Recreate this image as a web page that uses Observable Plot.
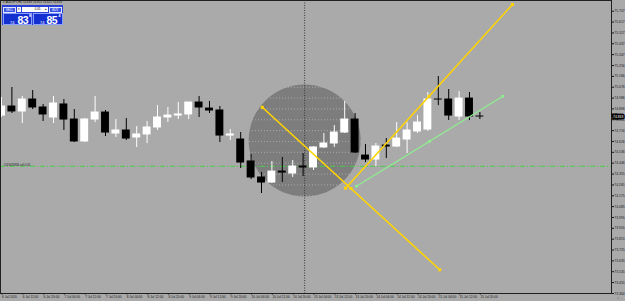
<!DOCTYPE html>
<html><head><meta charset="utf-8">
<script src="https://cdn.jsdelivr.net/npm/d3@7"></script>
<script src="https://cdn.jsdelivr.net/npm/@observablehq/plot@0.6"></script>
<style>
html,body{margin:0;padding:0;background:#aaaaaa;width:625px;height:301px;overflow:hidden;font-family:"Liberation Sans",Arial,sans-serif;}
#wrap{position:relative;width:625px;height:301px;}
#chart svg{display:block;}
.abs{position:absolute;box-sizing:border-box;}
#hdr{left:3px;top:0px;font-size:3px;color:#111;white-space:nowrap;line-height:4px;}
#panel{left:2px;top:5px;width:61px;height:20px;background:#2a3fd6;}
.btn{background:#3a55e6;border:0.5px solid #e0e6ff;color:#fff;font-size:3px;line-height:5px;text-align:center;}
.big{background:#1530d0;border:0.6px solid #8aa0ff;color:#fff;}
.big span{position:absolute;font-weight:bold;line-height:1;white-space:nowrap;}
</style></head>
<body><div id="wrap"><div id="chart"></div>
<div id="hdr" class="abs">▾ AUDJPY,H4 74.849 74.855 74.825 74.833</div>
<div id="panel" class="abs">
  <div class="abs btn" style="left:1px;top:1.5px;width:13px;height:6px;">SELL</div>
  <div class="abs" style="left:15px;top:2px;width:4px;height:5px;background:#fff;font-size:3px;line-height:5px;text-align:center;color:#000;">▾</div>
  <div class="abs" style="left:19.5px;top:2px;width:22px;height:5px;background:#fff;font-size:3px;line-height:5px;text-align:right;padding-right:3px;color:#000;">0.05</div>
  <div class="abs" style="left:42px;top:2px;width:4px;height:5px;background:#fff;font-size:3px;line-height:5px;text-align:center;color:#000;">▴</div>
  <div class="abs btn" style="left:46.5px;top:1.5px;width:13.5px;height:6px;">BUY</div>
  <div class="abs big" style="left:1px;top:8px;width:28.5px;height:12px;">
    <span style="left:6px;top:6.5px;font-size:4px;font-weight:normal;">74</span>
    <span style="left:13.5px;top:1px;font-size:10.5px;letter-spacing:-0.6px;">83</span>
    <span style="left:25px;top:1px;font-size:3.6px;">8</span>
  </div>
  <div class="abs big" style="left:31px;top:8px;width:29.5px;height:12px;">
    <span style="left:6px;top:6.5px;font-size:4px;font-weight:normal;">74</span>
    <span style="left:12.5px;top:1px;font-size:10.5px;letter-spacing:-0.6px;">85</span>
    <span style="left:24.5px;top:1px;font-size:3.6px;">4</span>
  </div>
</div>
</div>
<script>
// ---- data (AUDJPY H4) ----
const opens  = [74.841,74.916,74.875,74.974,74.908,74.825,74.933,74.808,74.626,74.808,74.866,74.692,74.717,74.659,74.684,74.742,74.825,74.841,74.850,74.949,74.899,74.883,74.675,74.642,74.460,74.327,74.285,74.376,74.360,74.418,74.410,74.576,74.609,74.700,74.808,74.509,74.476,74.592,74.584,74.642,74.709,74.725,74.974,74.974,74.833,74.982,74.833];
const highs  = [74.991,75.074,74.999,75.049,74.933,74.999,74.974,74.891,74.816,74.999,74.883,74.808,74.816,74.750,74.792,74.924,74.908,74.949,74.949,74.999,74.958,74.916,74.725,74.700,74.518,74.368,74.460,74.493,74.468,74.526,74.584,74.692,74.758,74.958,74.858,74.601,74.609,74.650,74.783,74.783,74.841,75.032,75.165,75.057,75.041,75.032,74.866];
const lows   = [74.825,74.858,74.775,74.891,74.792,74.775,74.717,74.617,74.617,74.783,74.667,74.659,74.634,74.576,74.609,74.717,74.783,74.808,74.808,74.825,74.858,74.617,74.634,74.401,74.310,74.194,74.277,74.285,74.327,74.335,74.385,74.567,74.576,74.692,74.526,74.451,74.418,74.484,74.576,74.526,74.692,74.709,74.924,74.800,74.800,74.800,74.808];
const closes = [74.916,74.875,74.974,74.908,74.850,74.941,74.808,74.626,74.808,74.866,74.700,74.717,74.650,74.684,74.742,74.825,74.841,74.850,74.949,74.908,74.883,74.675,74.684,74.451,74.327,74.285,74.376,74.368,74.418,74.410,74.576,74.609,74.700,74.808,74.534,74.476,74.584,74.584,74.650,74.717,74.783,74.974,74.974,74.841,74.982,74.833,74.833];

const xLabels = ["6 Jul 2020","6 Jul 12:00","6 Jul 20:00","7 Jul 04:00","7 Jul 12:00","7 Jul 20:00","8 Jul 04:00","8 Jul 12:00","8 Jul 20:00","9 Jul 04:00","9 Jul 12:00","9 Jul 20:00","10 Jul 04:00","10 Jul 12:00","10 Jul 20:00","13 Jul 04:00","13 Jul 12:00","13 Jul 20:00","14 Jul 04:00","14 Jul 12:00","14 Jul 20:00","15 Jul 04:00","15 Jul 12:00","15 Jul 20:00"];
const xTickBars = [0,2,4,6,8,10,12,14,16,18,20,22,24,26,28,30,32,34,36,38,40,42,44,46];
const yTicks = [75.707,75.617,75.527,75.437,75.347,75.256,75.166,75.076,74.986,74.896,74.806,74.716,74.626,74.536,74.446,74.355,74.265,74.175,74.085,73.995,73.905,73.815,73.725,73.635,73.545,73.455,73.364];

// chart objects
const orderPrice = 74.420;
const orderText = "#245629836 sell 0.05";
const separatorBar = 29.15;
const ellipseCenter = {i: 29.15, p: 74.634};
const trendA = [{i: 25.07, p: 74.910}, {i: 42.14, p: 73.561}];
const trendB = [{i: 33.08, p: 74.238}, {i: 49.13, p: 75.763}];
const trendC = [{i: 34.13, p: 74.254}, {i: 48.20, p: 75.001}];

// ---- build ----
const candles = opens.map((o, i) => ({i, open: o, high: highs[i], low: lows[i], close: closes[i]}));
const mid = (l) => ({i: (l[0].i + l[1].i) / 2, p: (l[0].p + l[1].p) / 2});
const yellowPts = [...trendA, mid(trendA), ...trendB, mid(trendB)];
const greenPts = [...trendC, mid(trendC)];
const last = closes[closes.length - 1];
const up = d => d.close > d.open;

const chart = Plot.plot({
  width: 625, height: 301,
  marginLeft: 0, marginRight: 14, marginTop: 0, marginBottom: 8,
  style: {background: "#aaaaaa", fontFamily: "Liberation Sans, Arial, sans-serif", overflow: "visible"},
  x: {domain: [-0.096, 58.654], axis: null},
  y: {domain: [73.364, 75.796], axis: null},
  marks: [
    Plot.dot([ellipseCenter], {x: "i", y: "p", r: 56, fill: "#7d7d7d", stroke: "none"}),
    Plot.ruleY(yTicks, {stroke: "#a9a9a9", strokeDasharray: "1,2", strokeWidth: 1}),
    Plot.ruleY([orderPrice], {stroke: "#46d046", strokeWidth: 1, strokeDasharray: "5,2,1,2"}),
    Plot.text([orderText], {frameAnchor: "left", y: () => orderPrice, text: d => d, dx: 3, dy: -1.6, fontSize: 2.8, textAnchor: "start", fill: "#1a1a1a"}),
    Plot.ruleX([separatorBar], {stroke: "#3a3a3a", strokeDasharray: "1,1.5", strokeWidth: 1}),
    Plot.ruleX(candles, {x: "i", y1: "low", y2: "high", stroke: d => up(d) ? "#ffffff" : "#000000", strokeWidth: 1}),
    Plot.rect(candles, {x1: d => d.i - 0.38, x2: d => d.i + 0.38, y1: d => Math.min(d.open, d.close), y2: d => Math.max(d.open, d.close),
      fill: d => up(d) ? "#ffffff" : "#000000", insetTop: -0.5, insetBottom: -0.5}),
    Plot.line(trendA, {x: "i", y: "p", stroke: "#ffd400", strokeWidth: 1.6}),
    Plot.line(trendB, {x: "i", y: "p", stroke: "#ffd400", strokeWidth: 1.6}),
    Plot.line(trendC, {x: "i", y: "p", stroke: "#8fee8f", strokeWidth: 1.3}),
    Plot.dot(yellowPts, {x: "i", y: "p", symbol: "square", r: 1.7, fill: "#ffd400", stroke: "none"}),
    Plot.dot(greenPts, {x: "i", y: "p", symbol: "square", r: 1.5, fill: "#8fee8f", stroke: "none"}),
    Plot.frame({stroke: "#202020", strokeWidth: 1}),
    Plot.axisY({ticks: yTicks, anchor: "right", tickSize: 2, tickPadding: 0.8, fontSize: 3.4, tickFormat: d => d.toFixed(3), color: "#1a1a1a"}),
    Plot.axisX({ticks: xTickBars, anchor: "bottom", tickSize: 1.5, tickPadding: 0.6, fontSize: 3.2, textAnchor: "start", dx: 0.5,
      tickFormat: d => xLabels[xTickBars.indexOf(d)], color: "#1a1a1a"}),
    Plot.text([last], {frameAnchor: "right", y: d => d, text: d => d.toFixed(3), dx: 1.5, textAnchor: "start", fontSize: 3.4,
      fill: "#ffffff", stroke: "#000000", strokeWidth: 3, strokeLinejoin: "miter"})
  ]
});
document.getElementById("chart").appendChild(chart);
</script>
</body></html>
